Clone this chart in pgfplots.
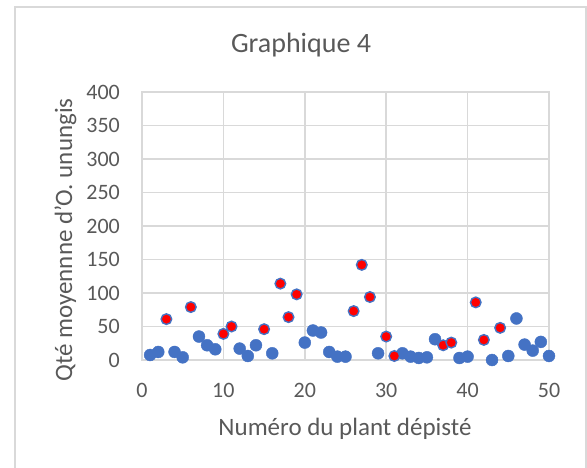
\documentclass[border=0pt]{standalone}
\usepackage{pgfplots}
\pgfplotsset{compat=1.18}
\usepackage{fontspec}
\setmainfont{Carlito}
\definecolor{txt}{HTML}{595959}
\definecolor{grd}{HTML}{D9D9D9}
\definecolor{xblue}{HTML}{4472C4}
\definecolor{xred}{HTML}{FF0000}
\begin{document}
\begin{tikzpicture}[x=1pt,y=1pt]
\path[use as bounding box] (0,0) rectangle (587,467);
\draw[grd, line width=1.2pt] (15,-2) -- (15,460) -- (586,460) -- (586,-2);
\begin{axis}[at={(142pt,107pt)}, anchor=south west, scale only axis,
  width=407pt, height=268pt,
  xmin=0, xmax=50, ymin=0, ymax=400,
  xtick={0,10,...,50}, ytick={0,50,...,400},
  grid=major, major grid style={grd, line width=1.6pt},
  axis line style={grd, line width=1.6pt},
  major tick length=0pt, clip=false,
  /pgf/number format/assume math mode=true,
  tick label style={font=\fontsize{22}{26}\selectfont, text=txt},
  xticklabel style={inner sep=0pt, anchor=north, yshift=-23pt},
  yticklabel style={inner sep=0pt, anchor=east, xshift=-22pt}]
\addplot[only marks, mark=*, mark size=6pt, mark options={draw=xblue, fill=xblue, line width=0.4pt}] coordinates {
(1,7.5) (2,12) (4,12) (5,4) (7,35) (8,22) (9,16) (12,17) (13,6) (14,22) (16,10)
(20,26) (21,44) (22,41) (23,12) (24,5) (25,5) (29,10) (32,10) (33,5) (34,3) (35,4)
(36,31) (39,3) (40,5) (43,0) (45,6) (46,62) (47,23) (48,14) (49,27) (50,6)
};
\addplot[only marks, mark=*, mark size=5.3pt, mark options={draw=xblue, fill=xred, line width=1.4pt}] coordinates {
(3,61) (6,79) (10,39) (11,50) (15,46) (17,114) (18,64) (19,98) (26,73) (27,142)
(28,94) (30,35) (31,6) (37,22) (38,26) (41,86) (42,30) (44,48)
};
\end{axis}
\node[anchor=base, text=txt, font=\fontsize{28}{32}\selectfont, inner sep=0pt] at (301,414) {Graphique 4};
\node[anchor=base, text=txt, font=\fontsize{25}{30}\selectfont, inner sep=0pt] at (345,32) {Numéro du plant dépisté};
\node[anchor=base, rotate=90, text=txt, font=\fontsize{25}{30}\selectfont, inner sep=0pt] at (72,227) {Qté moyennne d'O. unungis};
\end{tikzpicture}
\end{document}
